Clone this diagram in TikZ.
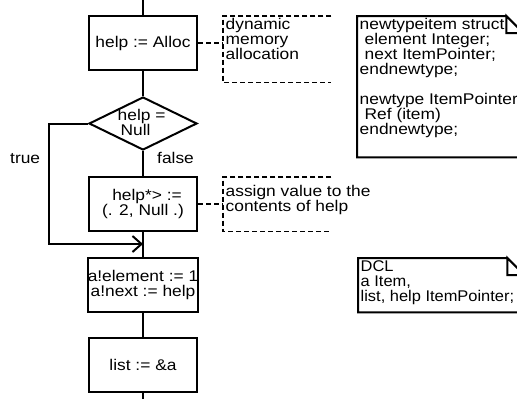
\documentclass[tikz,border=0pt]{standalone}
\usepackage{fontspec}
\setmainfont{Liberation Sans}[FakeStretch=1.12]
\newfontfamily\dclfont{Liberation Sans}[FakeStretch=1.06]
\usetikzlibrary{arrows.meta,shapes.geometric}
\begin{document}
\begin{tikzpicture}[x=1pt,y=-1pt,
  every node/.style={font=\fontsize{15.5}{15}\selectfont, inner sep=0pt},
  proc/.style={draw, line width=2pt, minimum width=108pt, minimum height=54pt, align=center},
  dia/.style={draw, diamond, line width=2pt, minimum width=108pt, minimum height=53pt, inner sep=0pt},
  flow/.style={line width=2pt},
  dsh/.style={line width=1.5pt, dash pattern=on 5pt off 3pt},
  cmt/.style={minimum width=108pt, anchor=north west},
  txt/.style={align=left, anchor=north west, inner sep=2.5pt},
  tsym/.style={line width=2pt}]
\clip (0,0) rectangle (517,399);
\fill[white] (0,0) rectangle (517,399);
% flow chart
\coordinate (top) at (143,0);
\coordinate (bot) at (143,399);
\node[proc] (b1) at (143,43) {help := Alloc};
\node[dia] (d) at (143,123.5) {};
\node[align=left, anchor=north west] (dt) at (117.5,109) {help =\\\hspace*{3pt}Null};
\node[proc] (b2) at (143,204) {\hspace*{8pt}help*> :=\\(. 2, Null .)};
\node[proc] (b3) at (143,285) {a!element := 1\\a!next := help};
\node[proc] (b4) at (143,365) {list := \&a};
\coordinate (lp) at (49,244);
\coordinate (j) at (143,244);
\node[anchor=base west] (tl) at (10,163) {true};
\node[anchor=base west] (fl) at (157,163) {false};
\draw[flow] (top) -- (b1);
\draw[flow] (b1) -- (d);
\draw[flow] (d) -- (b2);
\draw[flow] (b2) -- (b3);
\draw[flow] (b3) -- (b4);
\draw[flow] (b4) -- (bot);
\draw[flow, -{Straight Barb[length=9pt,width=16pt]}] (d.west) -| (lp) -- (j);
% comments
\node[cmt, minimum height=66pt] (c1) at (223,16) {};
\draw[dsh] (c1.north east) -- (c1.north west) -- (c1.south west) -- (c1.south east);
\node[txt] (c1t) at (c1.north west) {dynamic\\memory\\allocation};
\draw[dsh] (b1.east) -- (b1.east -| c1.west);
\node[cmt, minimum height=54pt] (c2) at (223,177) {};
\draw[dsh] (c2.north east) -- (c2.north west) -- (c2.south west) -- (c2.south east);
\node[txt] (c2t) at (223,183) {assign value to the\\contents of help};
\draw[dsh] (b2.east) -- (b2.east -| c2.west);
% text symbols
\node[minimum width=166pt, minimum height=141pt, anchor=north west] (t1) at (357,16) {};
\draw[tsym] ([xshift=-17pt]t1.north east) -- (t1.north west) -- (t1.south west) -- (t1.south east) -- ([yshift=-17pt]t1.north east) -- ++(-17,0) -- ++(0,-17) -- ++(17,17);
\node[txt] (t1t) at (t1.north west) {newtypeitem struct\\\hspace*{5pt}element Integer;\\\hspace*{5pt}next ItemPointer;\\endnewtype;\\\mbox{}\\newtype ItemPointer\\\hspace*{5pt}Ref (item)\\endnewtype;};
\node[minimum width=166pt, minimum height=54pt, anchor=north west] (t2) at (358,258) {};
\draw[tsym] ([xshift=-17pt]t2.north east) -- (t2.north west) -- (t2.south west) -- (t2.south east) -- ([yshift=-17pt]t2.north east) -- ++(-17,0) -- ++(0,-17) -- ++(17,17);
\node[txt, font=\dclfont\fontsize{15.5}{15}\selectfont] (t2t) at (t2.north west) {DCL\\a Item,\\list, help ItemPointer;};
\end{tikzpicture}
\end{document}
